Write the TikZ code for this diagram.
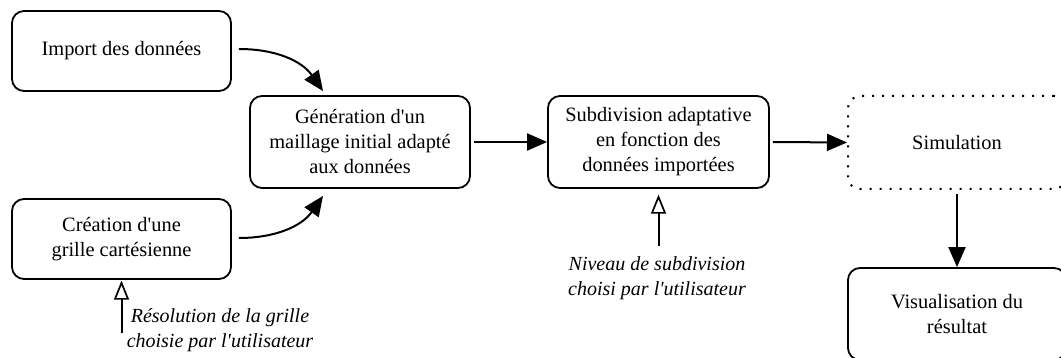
\documentclass[tikz,border=0pt]{standalone}
\usepackage{fontspec}
\setmainfont{Liberation Serif}
\usetikzlibrary{arrows.meta}
\newcommand{\apos}{\textquotesingle}
\begin{document}
\begin{tikzpicture}[x=1pt,y=-1pt,
  txt/.style={font=\rmfamily\fontsize{20.4}{25}\selectfont},
  box/.style={txt,draw,line width=1.8pt,rounded corners=12pt,align=center,inner sep=0pt},
  dotbox/.style={txt,draw,line width=2pt,rounded corners=12pt,align=center,inner sep=0pt,dash pattern=on 2pt off 8pt},
  lbl/.style={font=\rmfamily\fontsize{20}{25}\selectfont\itshape,align=center,inner sep=0pt},
  arr/.style={line width=2pt,-{Triangle[length=20pt,width=17pt]}},
  shaft/.style={line width=2pt},
  ohead/.style={line width=1.7pt,fill=white,line join=miter}
]
\clip (0,0) rectangle (1061,358);
\node[box,minimum width=219pt,minimum height=80pt] (imp) at (121.5,51) {Import des données};
\node[box,minimum width=219pt,minimum height=80pt] (cre) at (121.5,239) {Création d\apos une\\grille cartésienne};
\node[box,minimum width=220pt,minimum height=92pt] (gen) at (360,142) {Génération d\apos un\\maillage initial adapté\\aux données};
\node[box,minimum width=221pt,minimum height=92pt] (sub) at (658.5,142) {Subdivision adaptative\\en fonction des\\données importées};
\node[dotbox,minimum width=218pt,minimum height=93pt] (sim) at (957,142.5) {Simulation};
\node[box,minimum width=218pt,minimum height=92pt] (vis) at (957,314) {Visualisation du\\résultat};
\node[lbl] (lres) at (220,330) {Résolution de la grille\\choisie par l\apos utilisateur};
\node[lbl] (lniv) at (657,278) {Niveau de subdivision\\choisi par l\apos utilisateur};
\coordinate (tres) at (121.5,333);
\coordinate (tniv) at (658.5,246);
\coordinate (hres) at ([yshift=-3pt]tres |- cre.south);
\coordinate (hniv) at ([yshift=-8pt]tniv |- sub.south);

\draw[arr] ([xshift=7pt,yshift=2pt]imp.east) to[out=0,in=125] ([xshift=-37pt,yshift=4pt]gen.north);
\draw[arr] ([xshift=7pt,yshift=1pt]cre.east) to[out=0,in=235] ([xshift=-37pt,yshift=-7pt]gen.south);
\draw[arr] ([xshift=3pt]gen.east) -- (sub.west);
\draw[arr] ([xshift=3pt]sub.east) -- (sim.west);
\draw[arr] ([yshift=-4pt]sim.south) -- (vis.north);
\draw[shaft] (tres) -- ([yshift=-15pt]hres);
\draw[ohead] (hres) -- ++(-6.5,16) -- ++(13,0) -- cycle;
\draw[shaft] (tniv) -- ([yshift=-15pt]hniv);
\draw[ohead] (hniv) -- ++(-6.5,16) -- ++(13,0) -- cycle;
\end{tikzpicture}
\end{document}
